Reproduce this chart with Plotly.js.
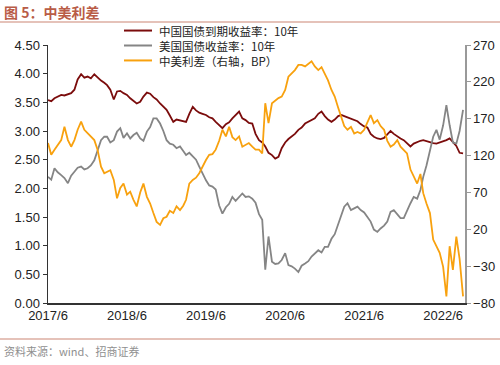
<!DOCTYPE html>
<html>
<head>
<meta charset="utf-8">
<script src="https://cdn.plot.ly/plotly-3.0.1.min.js"></script>
<style>html,body{margin:0;padding:0;background:#fff;}#chart{width:500px;height:365px;}</style>
</head>
<body>
<div id="chart"></div>
<script>
// semi-monthly observation dates
var dates = [
"2017-06-01","2017-06-16","2017-07-01","2017-07-16","2017-08-01","2017-08-16","2017-09-01","2017-09-16","2017-10-01","2017-10-16","2017-11-01","2017-11-16",
"2017-12-01","2017-12-16","2018-01-01","2018-01-16","2018-02-01","2018-02-16","2018-03-01","2018-03-16","2018-04-01","2018-04-16","2018-05-01","2018-05-16",
"2018-06-01","2018-06-16","2018-07-01","2018-07-16","2018-08-01","2018-08-16","2018-09-01","2018-09-16","2018-10-01","2018-10-16","2018-11-01","2018-11-16",
"2018-12-01","2018-12-16","2019-01-01","2019-01-16","2019-02-01","2019-02-16","2019-03-01","2019-03-16","2019-04-01","2019-04-16","2019-05-01","2019-05-16",
"2019-06-01","2019-06-16","2019-07-01","2019-07-16","2019-08-01","2019-08-16","2019-09-01","2019-09-16","2019-10-01","2019-10-16","2019-11-01","2019-11-16",
"2019-12-01","2019-12-16","2020-01-01","2020-01-16","2020-02-01","2020-02-16","2020-03-01","2020-03-16","2020-04-01","2020-04-16","2020-05-01","2020-05-16",
"2020-06-01","2020-06-16","2020-07-01","2020-07-16","2020-08-01","2020-08-16","2020-09-01","2020-09-16","2020-10-01","2020-10-16","2020-11-01","2020-11-16",
"2020-12-01","2020-12-16","2021-01-01","2021-01-16","2021-02-01","2021-02-16","2021-03-01","2021-03-16","2021-04-01","2021-04-16","2021-05-01","2021-05-16",
"2021-06-01","2021-06-16","2021-07-01","2021-07-16","2021-08-01","2021-08-16","2021-09-01","2021-09-16","2021-10-01","2021-10-16","2021-11-01","2021-11-16",
"2021-12-01","2021-12-16","2022-01-01","2022-01-16","2022-02-01","2022-02-16","2022-03-01","2022-03-16","2022-04-01","2022-04-16","2022-05-01","2022-05-16",
"2022-06-01","2022-06-16","2022-07-01","2022-07-16","2022-08-01","2022-08-16","2022-09-01"
];
// China 10Y government bond yield (%)
var cn10y = [
3.54,3.52, 3.57,3.60, 3.63,3.62, 3.64,3.66, 3.72,3.90, 3.99,3.93,
3.95,3.92, 3.99,3.93, 3.88,3.84, 3.80,3.72, 3.55,3.69, 3.70,3.66,
3.63,3.57, 3.52,3.48, 3.51,3.60, 3.67,3.65, 3.59,3.55, 3.48,3.42,
3.37,3.27, 3.16,3.20, 3.19,3.17, 3.16,3.30, 3.42,3.36, 3.32,3.30,
3.28,3.24, 3.22,3.16, 3.10,3.05, 3.12,3.15, 3.22,3.28, 3.34,3.22,
3.19,3.14, 3.13,2.95, 2.84,2.80, 2.73,2.62, 2.58,2.52, 2.55,2.70,
2.80,2.86, 2.90,2.95, 3.02,3.06, 3.13,3.16, 3.20,3.22, 3.30,3.34,
3.26,3.20, 3.16,3.20, 3.26,3.28, 3.26,3.24, 3.22,3.19, 3.17,3.12,
3.08,3.06, 2.95,2.90, 2.87,2.86, 2.88,2.94, 3.00,2.95, 2.90,2.87,
2.84,2.78, 2.73,2.78, 2.81,2.83, 2.84,2.82, 2.81,2.79, 2.78,2.80,
2.81,2.84, 2.87,2.80, 2.74,2.62, 2.61
];
// US 10Y treasury yield (%)
var us10y = [
2.20,2.15, 2.35,2.28, 2.23,2.18, 2.09,2.22, 2.29,2.36, 2.38,2.33,
2.35,2.40, 2.49,2.68, 2.84,2.90, 2.90,2.80, 2.84,2.99, 3.05,2.88,
2.96,2.87, 2.93,2.97, 2.87,2.83, 2.99,3.07, 3.22,3.22, 3.13,3.00,
2.84,2.78, 2.76,2.70, 2.73,2.65, 2.58,2.62, 2.55,2.50, 2.38,2.25,
2.14,2.05, 2.03,1.98, 1.70,1.56, 1.67,1.73, 1.85,1.78, 1.85,1.91,
1.85,1.86, 1.82,1.75, 1.55,1.45, 0.58,1.16, 0.72,0.68, 0.69,0.75,
0.87,0.66, 0.64,0.60, 0.54,0.65, 0.69,0.73, 0.81,0.86, 0.92,0.88,
0.98,0.98, 1.12,1.20, 1.39,1.55, 1.68,1.74, 1.62,1.65, 1.68,1.62,
1.58,1.50, 1.42,1.28, 1.24,1.30, 1.35,1.42, 1.59,1.62, 1.55,1.48,
1.48,1.62, 1.74,1.85, 1.82,1.97, 2.20,2.40, 2.67,2.90, 3.02,2.85,
3.10,3.45, 3.10,2.80, 2.78,3.00, 3.37
];
// China-US spread (BP, right axis)
var spreadBP = [
137,121, 128,135, 141,159, 141,132, 141,155, 166,155,
150,146, 141,128, 105,96, 98,100, 87,62, 76,82,
67,71, 60,51, 70,82, 64,55, 42,30, 26,35,
37,45, 42,51, 46,52, 60,82, 87,90, 96,105,
114,121, 122,128, 140,155, 146,159, 145,141, 146,132,
135,137, 132,128, 128,123, 191,164, 191,195, 198,200,
209,227, 232,236, 243,243, 241,245, 248,241, 236,240,
232,222, 209,200, 185,172, 160,155, 159,150, 152,150,
155,165, 175,164, 168,160, 155,140, 132,135, 141,132,
128,123, 101,91, 82,95, 69,55, 42,6, -3,-12,
-31,-71, -3,-35, 10,-20, -71
];
var seriesNames = ["中国国债到期收益率：10年", "美国国债收益率：10年", "中美利差（右轴，BP）"];
var xTickVals = ["2017-06-01","2018-06-01","2019-06-01","2020-06-01","2021-06-01","2022-06-01"];
var xTickText = ["2017/6","2018/6","2019/6","2020/6","2021/6","2022/6"];
var leftTicks = [0,0.5,1,1.5,2,2.5,3,3.5,4,4.5];
var rightTicks = [-80,-30,20,70,120,170,220,270];

var cRed = '#7b0c0c', cGray = '#858585', cOrange = '#f8a10e';

var traces = [
  {x:dates, y:cn10y, type:'scatter', mode:'lines', name:seriesNames[0], line:{color:cRed, width:1.8}},
  {x:dates, y:us10y, type:'scatter', mode:'lines', name:seriesNames[1], line:{color:cGray, width:1.8}},
  {x:dates, y:spreadBP, type:'scatter', mode:'lines', name:seriesNames[2], yaxis:'y2', line:{color:cOrange, width:1.8}}
];

// pixel -> paper helpers (plot area: x 48..465, y 45..303)
function px(x){ return (x-48)/417; }
function py(y){ return (303-y)/258; }

var legFont = 11.5;
var legLineGap = legFont*1.3;
var legMid = 45.5;
var legColors = [cRed, cGray, cOrange];
var shapes = [
  {type:'line', xref:'paper', yref:'paper', x0:px(0), x1:px(500), y0:py(22), y1:py(22), line:{color:'#dcaea2', width:1.5}},
  {type:'line', xref:'paper', yref:'paper', x0:px(0), x1:px(500), y0:py(339), y1:py(339), line:{color:'#dcaea2', width:1.5}}
];
var annotations = [
  {xref:'paper', yref:'paper', x:px(2), y:py(12), xanchor:'left', yanchor:'middle', showarrow:false,
   text:'<b>图 5：中美利差</b>', font:{family:'Noto Sans CJK SC, sans-serif', size:14, color:'#b95c47'}},
  {xref:'paper', yref:'paper', x:px(2), y:py(351), xanchor:'left', yanchor:'middle', showarrow:false,
   text:'资料来源：wind、招商证券', font:{family:'Noto Sans CJK SC, sans-serif', size:11, color:'#8f8f8f'}},
  {xref:'paper', yref:'paper', x:px(157), y:py(legMid), xanchor:'left', yanchor:'middle', align:'left', showarrow:false,
   text:seriesNames.join('<br>'), font:{family:'Noto Sans CJK SC, sans-serif', size:legFont, color:'#222'}}
];
for (var i=0;i<3;i++){
  var yy = legMid + (i-1)*legLineGap;
  shapes.push({type:'line', xref:'paper', yref:'paper', x0:px(124), x1:px(152), y0:py(yy), y1:py(yy), line:{color:legColors[i], width:2}});
}

var layout = {
  width:500, height:365,
  margin:{l:48, r:35, t:45, b:62, pad:0},
  paper_bgcolor:'#fff', plot_bgcolor:'#fff',
  showlegend:false,
  font:{family:'Liberation Sans, Arial, sans-serif', size:13, color:'#222'},
  xaxis:{type:'date', range:['2017-06-01','2022-09-10'], tickmode:'array', tickvals:xTickVals, ticktext:xTickText,
         showline:true, linecolor:'#333', linewidth:1.5, ticks:'', showgrid:false, zeroline:false, tickfont:{size:13}},
  yaxis:{range:[0,4.5], tickmode:'array', tickvals:leftTicks, tickformat:'.2f', ticks:'outside', ticklen:4, tickcolor:'#333',
         showline:true, linecolor:'#333', linewidth:1.5, showgrid:false, zeroline:false, tickfont:{size:13}},
  yaxis2:{overlaying:'y', side:'right', range:[-80,270], tickmode:'array', tickvals:rightTicks, ticks:'outside', ticklen:4, tickcolor:'#999',
          showline:true, linecolor:'#999', linewidth:1.5, showgrid:false, zeroline:false, tickfont:{size:13}},
  shapes:shapes,
  annotations:annotations
};

Plotly.newPlot('chart', traces, layout, {displayModeBar:false, staticPlot:true});
</script>
</body>
</html>
